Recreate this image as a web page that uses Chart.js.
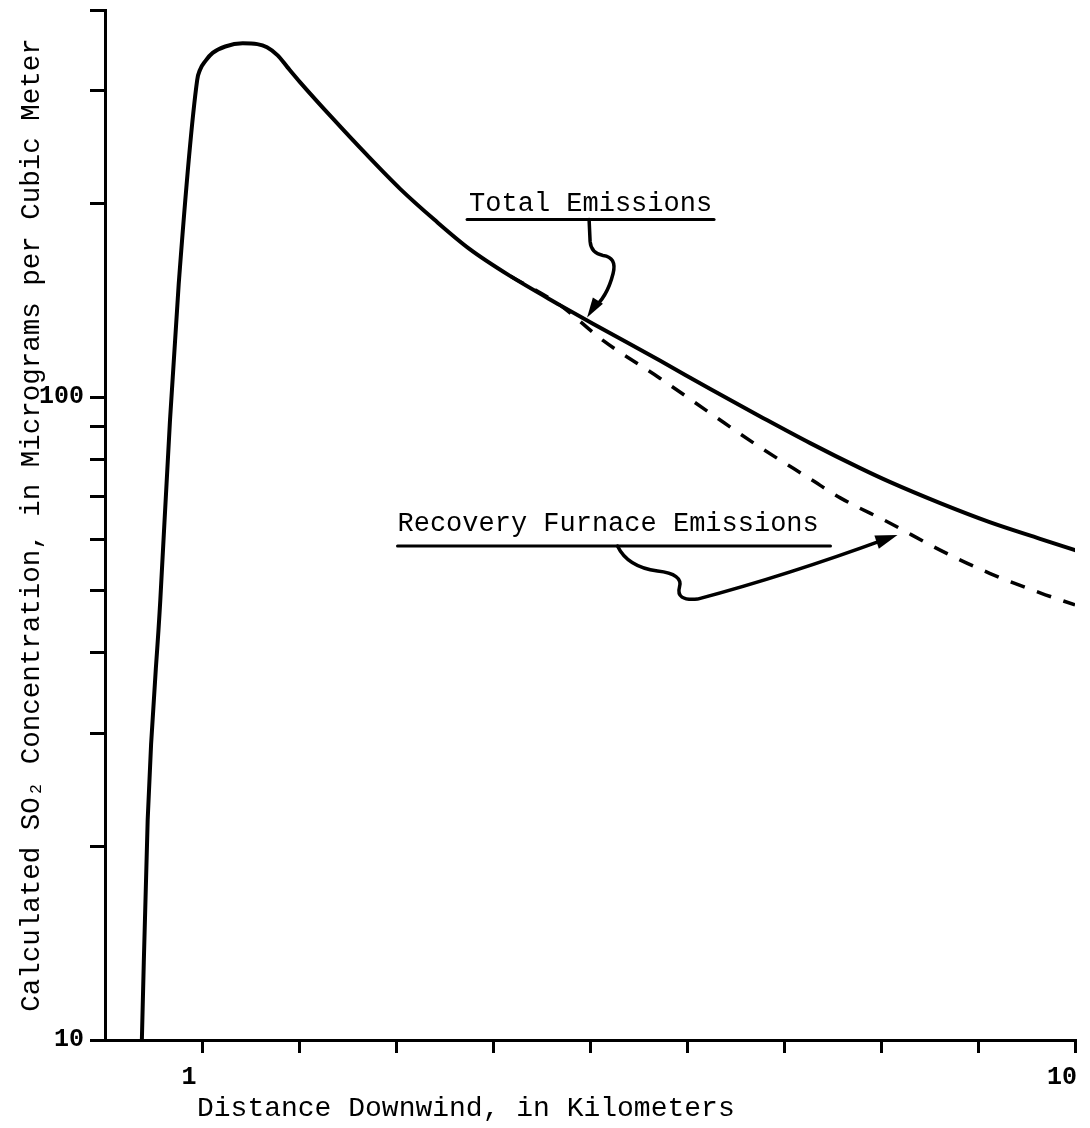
<!DOCTYPE html>
<html>
<head>
<meta charset="utf-8">
<script src="https://cdn.jsdelivr.net/npm/chart.js@4"></script>
<style>
  html, body { margin: 0; padding: 0; background: #fff; }
  #wrap { width: 1090px; height: 1128px; }
</style>
</head>
<body>
<div id="wrap"><canvas id="myChart"></canvas></div>
<script>
// distance downwind (km) and calculated SO2 (ug/m3)
const totalDist = [0.38, 0.44, 0.57, 0.67, 0.76, 0.95, 0.98, 1.04, 1.11, 1.24, 1.42, 1.57, 1.67, 1.78, 1.88, 2.01, 2.35, 2.70, 3.04, 3.40, 3.76, 4.18, 4.69, 5.03, 5.72, 6.24, 6.75, 7.27, 7.78, 8.09, 8.61, 9.12, 9.64, 10.0];
const totalConc = [10, 22, 48.3, 92, 150, 311, 323, 334, 343, 351, 355, 354, 350, 340, 326, 309, 271, 238, 211, 188.5, 169.9, 154.2, 139, 130, 114, 102.9, 93.4, 84.8, 77.6, 73.8, 68.4, 63.9, 60.2, 57.8];

const furnaceDist = [4.18, 4.69, 5.13, 5.72, 6.24, 6.75, 7.27, 7.58, 8.09, 8.61, 9.12, 9.64, 10.0];
const furnaceConc = [154.2, 139, 122.6, 107, 94.4, 83.6, 74.6, 69.7, 63.7, 57.8, 53.2, 49.6, 47.5];

const distTicks = [1, 2, 3, 4, 5, 6, 7, 8, 9, 10];
const distLabels = [1, 10];
const concTicks = [10, 20, 30, 40, 50, 60, 70, 80, 90, 100, 200, 300, 400];
const concLabels = [10, 100];

const MONO = '"Liberation Mono", "DejaVu Sans Mono", monospace';

const toPoints = (xs, ys) => xs.map((d, i) => ({ x: d, y: ys[i] }));

function arrowHead(ctx, tx, ty, fx, fy, len, half) {
    const a = Math.atan2(ty - fy, tx - fx);
    const bx = tx - len * Math.cos(a), by = ty - len * Math.sin(a);
    ctx.beginPath();
    ctx.moveTo(tx, ty);
    ctx.lineTo(bx + half * Math.sin(a), by - half * Math.cos(a));
    ctx.lineTo(bx - half * Math.sin(a), by + half * Math.cos(a));
    ctx.closePath();
    ctx.fill();
}

// hand drawn call-outs, anchored on the curves
const notesPlugin = {
    id: 'notes',
    afterDraw(chart) {
        const { ctx, chartArea, scales: { x, y } } = chart;
        ctx.save();
        ctx.strokeStyle = '#000';
        ctx.fillStyle = '#000';
        ctx.lineCap = 'round';
        ctx.lineJoin = 'round';
        ctx.font = '27px ' + MONO;
        ctx.textBaseline = 'alphabetic';

        // Total Emissions
        let tx = x.getPixelForValue(4.97), ty = y.getPixelForValue(133);
        ctx.fillText('Total Emissions', tx - 118, ty - 106);
        ctx.lineWidth = 3;
        ctx.beginPath();
        ctx.moveTo(tx - 120, ty - 98);
        ctx.lineTo(tx + 127, ty - 98);
        ctx.stroke();
        ctx.lineWidth = 3.5;
        ctx.beginPath();
        ctx.moveTo(tx + 2, ty - 98);
        ctx.lineTo(tx + 3, ty - 76);
        ctx.quadraticCurveTo(tx + 4, ty - 64, tx + 16, ty - 62);
        ctx.quadraticCurveTo(tx + 30, ty - 60, tx + 26, ty - 44);
        ctx.quadraticCurveTo(tx + 20, ty - 20, tx + 5, ty - 8);
        ctx.stroke();
        arrowHead(ctx, tx, ty, tx + 9, ty - 14, 20, 6);

        // Recovery Furnace Emissions
        tx = x.getPixelForValue(8.17); ty = y.getPixelForValue(61);
        ctx.fillText('Recovery Furnace Emissions', tx - 500, ty - 4);
        ctx.lineWidth = 3;
        ctx.beginPath();
        ctx.moveTo(tx - 500, ty + 11);
        ctx.lineTo(tx - 67, ty + 11);
        ctx.stroke();
        ctx.lineWidth = 3.5;
        ctx.beginPath();
        ctx.moveTo(tx - 280, ty + 11);
        ctx.quadraticCurveTo(tx - 270, ty + 32, tx - 240, ty + 36);
        ctx.quadraticCurveTo(tx - 214, ty + 39, tx - 218, ty + 52);
        ctx.quadraticCurveTo(tx - 222, ty + 66, tx - 200, ty + 64);
        ctx.quadraticCurveTo(tx - 110, ty + 40, tx - 12, ty + 4);
        ctx.stroke();
        arrowHead(ctx, tx, ty, tx - 30, ty + 10, 22, 7);

        // x axis title, set off to the left as in the original
        ctx.font = '28px ' + MONO;
        ctx.fillText('Distance Downwind, in Kilometers', chartArea.left + 92, chartArea.bottom + 76);
        ctx.restore();
    }
};

new Chart(document.getElementById('myChart').getContext('2d'), {
    type: 'line',
    data: {
        datasets: [
            {
                label: 'Total Emissions',
                data: toPoints(totalDist, totalConc),
                borderColor: '#000',
                borderWidth: 4,
                borderCapStyle: 'round',
                pointRadius: 0,
                cubicInterpolationMode: 'monotone',
                fill: false
            },
            {
                label: 'Recovery Furnace Emissions',
                data: toPoints(furnaceDist, furnaceConc),
                borderColor: '#000',
                borderWidth: 3.5,
                borderDash: [15, 13],
                pointRadius: 0,
                cubicInterpolationMode: 'monotone',
                fill: false
            }
        ]
    },
    options: {
        responsive: true,
        maintainAspectRatio: false,
        animation: false,
        layout: { padding: { left: 0, right: 15, top: 10, bottom: 0 } },
        plugins: { legend: { display: false }, tooltip: { enabled: false } },
        scales: {
            x: {
                type: 'linear',
                min: 0,
                max: 10,
                afterBuildTicks: s => { s.ticks = distTicks.map(v => ({ value: v })); },
                afterFit: s => { s.height = 88; s.paddingLeft = 0; s.paddingRight = 0; },
                ticks: {
                    callback: v => distLabels.includes(v) ? String(v) : '',
                    font: { family: MONO, size: 25, weight: 'bold' },
                    color: '#000',
                    padding: 10,
                    labelOffset: -13,
                    autoSkip: false,
                    maxRotation: 0
                },
                grid: { drawOnChartArea: false, tickLength: 13, lineWidth: 3, color: '#000' },
                border: { width: 3, color: '#000' }
            },
            y: {
                type: 'logarithmic',
                min: 10,
                max: 400,
                afterBuildTicks: s => { s.ticks = concTicks.map(v => ({ value: v })); },
                afterFit: s => { s.width = 105; s.paddingTop = 0; s.paddingBottom = 0; },
                ticks: {
                    callback: v => concLabels.includes(v) ? String(v) : '',
                    font: { family: MONO, size: 25, weight: 'bold' },
                    color: '#000',
                    padding: 6,
                    autoSkip: false
                },
                grid: { drawOnChartArea: false, tickLength: 15, lineWidth: 3, color: '#000' },
                border: { width: 3, color: '#000' },
                title: {
                    display: true,
                    text: 'Calculated SO\u2082 Concentration, in Micrograms per Cubic Meter',
                    font: { family: MONO, size: 27.5 },
                    color: '#000',
                    padding: { top: 15, bottom: 0 }
                }
            }
        }
    },
    plugins: [notesPlugin]
});
</script>
</body>
</html>
